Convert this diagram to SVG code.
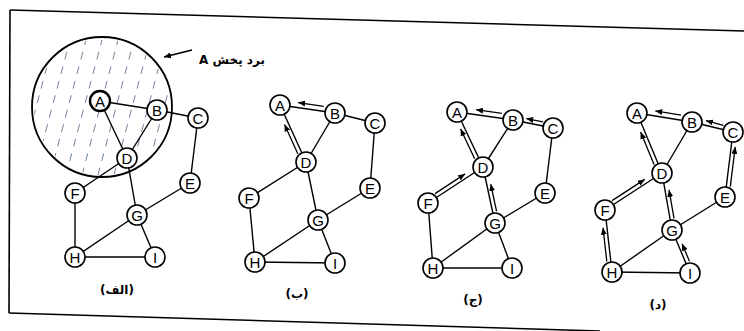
<svg xmlns="http://www.w3.org/2000/svg" width="744" height="331" viewBox="0 0 744 331">
<style>
.frame{stroke:#000;stroke-width:1.6;fill:none}
.edge{stroke:#000;stroke-width:1.4;fill:none}
.arr{stroke:#000;stroke-width:1.3;fill:none;marker-end:url(#ah)}
.node circle{fill:#fff;stroke:#000;stroke-width:1.6}
.node text{font-family:"Liberation Sans",Arial,sans-serif;font-size:15px;text-anchor:middle;dominant-baseline:central;fill:#000}
.cap{font-family:"DejaVu Sans",sans-serif;font-size:12px;font-weight:bold;text-anchor:middle;fill:#000}
.hatch line{stroke:#7080a0;stroke-width:1;stroke-dasharray:8 7}
</style>
<defs>
<marker id="ah" markerUnits="userSpaceOnUse" markerWidth="8" markerHeight="6" refX="7" refY="3" orient="auto">
<path d="M0,0 L7,3 L0,6 Z" fill="#000"/>
</marker>
<clipPath id="rc"><circle cx="102" cy="107" r="68"/></clipPath>
</defs>
<rect width="744" height="331" fill="#fff"/>
<g id="frame">
<line class="frame" x1="10" y1="10" x2="744" y2="31"/>
<line class="frame" x1="10" y1="10" x2="9" y2="313"/>
<line class="frame" x1="9" y1="313" x2="600" y2="331"/>
</g>
<g id="range">
<circle cx="102" cy="107" r="70" fill="#fff" stroke="#000" stroke-width="1.8"/>
<g class="hatch" clip-path="url(#rc)">
<line x1="14" y1="190" x2="54" y2="40"/>
<line x1="30" y1="190" x2="70" y2="40"/>
<line x1="46" y1="190" x2="86" y2="40"/>
<line x1="62" y1="190" x2="102" y2="40"/>
<line x1="78" y1="190" x2="118" y2="40"/>
<line x1="94" y1="190" x2="134" y2="40"/>
<line x1="110" y1="190" x2="150" y2="40"/>
<line x1="126" y1="190" x2="166" y2="40"/>
<line x1="142" y1="190" x2="182" y2="40"/>
<line x1="158" y1="190" x2="198" y2="40"/>
</g>
<line x1="192" y1="50" x2="164" y2="57" stroke="#000" stroke-width="1.4" marker-end="url(#ah)"/>
<text class="cap" x="232" y="64" direction="rtl" unicode-bidi="embed" font-size="13">برد پخش A</text>
</g>
<g id="connectors">
<!-- panel 1 -->
<line class="edge" x1="100" y1="101" x2="157" y2="110"/>
<line class="edge" x1="100" y1="101" x2="127" y2="158"/>
<line class="edge" x1="157" y1="110" x2="127" y2="158"/>
<line class="edge" x1="157" y1="110" x2="198" y2="118"/>
<line class="edge" x1="198" y1="118" x2="190" y2="183"/>
<line class="edge" x1="127" y1="158" x2="75" y2="193"/>
<line class="edge" x1="127" y1="158" x2="137" y2="215"/>
<line class="edge" x1="190" y1="183" x2="137" y2="215"/>
<line class="edge" x1="75" y1="193" x2="75" y2="257"/>
<line class="edge" x1="137" y1="215" x2="75" y2="257"/>
<line class="edge" x1="137" y1="215" x2="155" y2="257"/>
<line class="edge" x1="75" y1="257" x2="155" y2="257"/>
<!-- panel 2 -->
<line class="edge" x1="280" y1="105" x2="335" y2="113"/>
<line class="edge" x1="280" y1="105" x2="306" y2="162"/>
<line class="edge" x1="335" y1="113" x2="306" y2="162"/>
<line class="edge" x1="335" y1="113" x2="375" y2="123"/>
<line class="edge" x1="375" y1="123" x2="370" y2="188"/>
<line class="edge" x1="306" y1="162" x2="249" y2="198"/>
<line class="edge" x1="306" y1="162" x2="318" y2="220"/>
<line class="edge" x1="370" y1="188" x2="318" y2="220"/>
<line class="edge" x1="249" y1="198" x2="255" y2="262"/>
<line class="edge" x1="318" y1="220" x2="255" y2="262"/>
<line class="edge" x1="318" y1="220" x2="335" y2="263"/>
<line class="edge" x1="255" y1="262" x2="335" y2="263"/>
<g transform="translate(335,113) rotate(-171.7)"><line class="arr" x1="12" y1="5" x2="38" y2="5"/></g>
<g transform="translate(306,162) rotate(-114.5)"><line class="arr" x1="11" y1="-4" x2="43" y2="-4"/></g>
<!-- panel 3 -->
<line class="edge" x1="457" y1="112" x2="513" y2="120"/>
<line class="edge" x1="457" y1="112" x2="483" y2="167"/>
<line class="edge" x1="513" y1="120" x2="483" y2="167"/>
<line class="edge" x1="513" y1="120" x2="553" y2="128"/>
<line class="edge" x1="553" y1="128" x2="545" y2="193"/>
<line class="edge" x1="483" y1="167" x2="428" y2="203"/>
<line class="edge" x1="483" y1="167" x2="495" y2="223"/>
<line class="edge" x1="545" y1="193" x2="495" y2="223"/>
<line class="edge" x1="428" y1="203" x2="433" y2="268"/>
<line class="edge" x1="495" y1="223" x2="433" y2="268"/>
<line class="edge" x1="495" y1="223" x2="512" y2="268"/>
<line class="edge" x1="433" y1="268" x2="512" y2="268"/>
<g transform="translate(513,120) rotate(-171.9)"><line class="arr" x1="12" y1="5" x2="38" y2="5"/></g>
<g transform="translate(553,128) rotate(-168.7)"><line class="arr" x1="11" y1="4" x2="28" y2="4"/></g>
<g transform="translate(483,167) rotate(-115.3)"><line class="arr" x1="11" y1="-4" x2="44" y2="-4"/></g>
<g transform="translate(428,203) rotate(-33.2)"><line class="arr" x1="11" y1="-4" x2="47" y2="-4"/></g>
<g transform="translate(495,223) rotate(-102.1)"><line class="arr" x1="11" y1="4" x2="39" y2="4"/></g>
<!-- panel 4 -->
<line class="edge" x1="637" y1="113" x2="692" y2="122"/>
<line class="edge" x1="637" y1="113" x2="662" y2="173"/>
<line class="edge" x1="692" y1="122" x2="662" y2="173"/>
<line class="edge" x1="692" y1="122" x2="733" y2="132"/>
<line class="edge" x1="733" y1="132" x2="725" y2="197"/>
<line class="edge" x1="662" y1="173" x2="605" y2="210"/>
<line class="edge" x1="662" y1="173" x2="672" y2="230"/>
<line class="edge" x1="725" y1="197" x2="672" y2="230"/>
<line class="edge" x1="605" y1="210" x2="612" y2="272"/>
<line class="edge" x1="672" y1="230" x2="612" y2="272"/>
<line class="edge" x1="672" y1="230" x2="690" y2="273"/>
<line class="edge" x1="612" y1="272" x2="690" y2="273"/>
<g transform="translate(692,122) rotate(-170.7)"><line class="arr" x1="12" y1="5" x2="38" y2="5"/></g>
<g transform="translate(733,132) rotate(-165)"><line class="arr" x1="11" y1="4" x2="29" y2="4"/></g>
<g transform="translate(662,173) rotate(-112.6)"><line class="arr" x1="11" y1="-4" x2="46" y2="-4"/></g>
<g transform="translate(605,210) rotate(-33)"><line class="arr" x1="11" y1="-4" x2="50" y2="-4"/></g>
<g transform="translate(672,230) rotate(-99.95)"><line class="arr" x1="11" y1="4" x2="40" y2="4"/></g>
<g transform="translate(725,197) rotate(-83)"><line class="arr" x1="11" y1="4" x2="51" y2="4"/></g>
<g transform="translate(612,272) rotate(-96.4)"><line class="arr" x1="11" y1="-4" x2="45" y2="-4"/></g>
<g transform="translate(690,273) rotate(-112.7)"><line class="arr" x1="11" y1="4" x2="30" y2="4"/></g>
</g>
<!-- nodes panel 1 -->
<g id="p1-A" class="node"><circle cx="100" cy="101" r="10" style="stroke-width:2.4"/><text x="100" y="101">A</text></g>
<g id="p1-B" class="node"><circle cx="157" cy="110" r="10"/><text x="157" y="110">B</text></g>
<g id="p1-C" class="node"><circle cx="198" cy="118" r="10"/><text x="198" y="118">C</text></g>
<g id="p1-D" class="node"><circle cx="127" cy="158" r="10"/><text x="127" y="158">D</text></g>
<g id="p1-E" class="node"><circle cx="190" cy="183" r="10"/><text x="190" y="183">E</text></g>
<g id="p1-F" class="node"><circle cx="75" cy="193" r="10"/><text x="75" y="193">F</text></g>
<g id="p1-G" class="node"><circle cx="137" cy="215" r="10"/><text x="137" y="215">G</text></g>
<g id="p1-H" class="node"><circle cx="75" cy="257" r="10"/><text x="75" y="257">H</text></g>
<g id="p1-I" class="node"><circle cx="155" cy="257" r="10"/><text x="155" y="257">I</text></g>
<!-- nodes panel 2 -->
<g id="p2-A" class="node"><circle cx="280" cy="105" r="10"/><text x="280" y="105">A</text></g>
<g id="p2-B" class="node"><circle cx="335" cy="113" r="10"/><text x="335" y="113">B</text></g>
<g id="p2-C" class="node"><circle cx="375" cy="123" r="10"/><text x="375" y="123">C</text></g>
<g id="p2-D" class="node"><circle cx="306" cy="162" r="10"/><text x="306" y="162">D</text></g>
<g id="p2-E" class="node"><circle cx="370" cy="188" r="10"/><text x="370" y="188">E</text></g>
<g id="p2-F" class="node"><circle cx="249" cy="198" r="10"/><text x="249" y="198">F</text></g>
<g id="p2-G" class="node"><circle cx="318" cy="220" r="10"/><text x="318" y="220">G</text></g>
<g id="p2-H" class="node"><circle cx="255" cy="262" r="10"/><text x="255" y="262">H</text></g>
<g id="p2-I" class="node"><circle cx="335" cy="263" r="10"/><text x="335" y="263">I</text></g>
<!-- nodes panel 3 -->
<g id="p3-A" class="node"><circle cx="457" cy="112" r="10"/><text x="457" y="112">A</text></g>
<g id="p3-B" class="node"><circle cx="513" cy="120" r="10"/><text x="513" y="120">B</text></g>
<g id="p3-C" class="node"><circle cx="553" cy="128" r="10"/><text x="553" y="128">C</text></g>
<g id="p3-D" class="node"><circle cx="483" cy="167" r="10"/><text x="483" y="167">D</text></g>
<g id="p3-E" class="node"><circle cx="545" cy="193" r="10"/><text x="545" y="193">E</text></g>
<g id="p3-F" class="node"><circle cx="428" cy="203" r="10"/><text x="428" y="203">F</text></g>
<g id="p3-G" class="node"><circle cx="495" cy="223" r="10"/><text x="495" y="223">G</text></g>
<g id="p3-H" class="node"><circle cx="433" cy="268" r="10"/><text x="433" y="268">H</text></g>
<g id="p3-I" class="node"><circle cx="512" cy="268" r="10"/><text x="512" y="268">I</text></g>
<!-- nodes panel 4 -->
<g id="p4-A" class="node"><circle cx="637" cy="113" r="10"/><text x="637" y="113">A</text></g>
<g id="p4-B" class="node"><circle cx="692" cy="122" r="10"/><text x="692" y="122">B</text></g>
<g id="p4-C" class="node"><circle cx="733" cy="132" r="10"/><text x="733" y="132">C</text></g>
<g id="p4-D" class="node"><circle cx="662" cy="173" r="10"/><text x="662" y="173">D</text></g>
<g id="p4-E" class="node"><circle cx="725" cy="197" r="10"/><text x="725" y="197">E</text></g>
<g id="p4-F" class="node"><circle cx="605" cy="210" r="10"/><text x="605" y="210">F</text></g>
<g id="p4-G" class="node"><circle cx="672" cy="230" r="10"/><text x="672" y="230">G</text></g>
<g id="p4-H" class="node"><circle cx="612" cy="272" r="10"/><text x="612" y="272">H</text></g>
<g id="p4-I" class="node"><circle cx="690" cy="273" r="10"/><text x="690" y="273">I</text></g>
<!-- captions -->
<g id="captions">
<text class="cap" x="117" y="294">(الف)</text>
<text class="cap" x="297" y="298">(ب)</text>
<text class="cap" x="473" y="304">(ج)</text>
<text class="cap" x="658" y="309">(د)</text>
</g>
</svg>
